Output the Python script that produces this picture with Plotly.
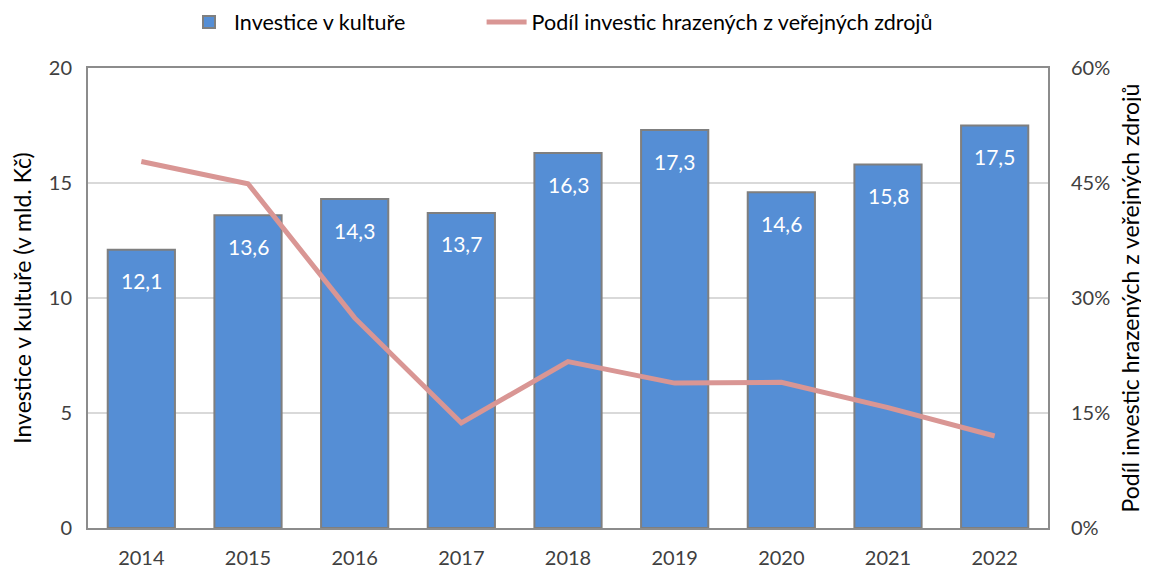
import plotly.graph_objects as go

years = ["2014", "2015", "2016", "2017", "2018", "2019", "2020", "2021", "2022"]
investice = [12.1, 13.6, 14.3, 13.7, 16.3, 17.3, 14.6, 15.8, 17.5]
podil = [0.478, 0.449, 0.274, 0.137, 0.217, 0.189, 0.190, 0.157, 0.120]
labels = [f"{v:.1f}".replace(".", ",") for v in investice]

font_family = "Lato, Open Sans, sans-serif"

fig = go.Figure()
fig.add_trace(go.Bar(
    x=years, y=investice, name="Investice v kultuře", legend="legend",
    marker=dict(color="#558ED5", line=dict(color="#7F7F7F", width=2)),
    width=0.63,
))
fig.add_trace(go.Scatter(
    x=years, y=podil, name="Podíl investic hrazených z veřejných zdrojů", legend="legend2",
    mode="lines", line=dict(color="#D99694", width=5), yaxis="y2",
))

# value labels near the top of each bar (category index positions)
for i, (y, t) in enumerate(zip(investice, labels)):
    fig.add_annotation(x=i, y=y, xref="x", yref="y", text=t, showarrow=False,
                       yshift=-31, yanchor="middle",
                       font=dict(color="white", size=21, family=font_family))

legend_common = dict(orientation="h", yanchor="middle", y=0.975, yref="container",
                     xanchor="left", font=dict(size=21.5, color="#000000"),
                     itemwidth=40, bgcolor="rgba(0,0,0,0)")

fig.update_layout(
    width=1141, height=561,
    margin=dict(l=80, r=101, t=60, b=41, autoexpand=False),
    paper_bgcolor="white", plot_bgcolor="white",
    font=dict(family=font_family, size=18, color="#404040"),
    showlegend=True,
    legend=dict(x=0.1, **legend_common),
    legend2=dict(x=0.41, **legend_common),
    xaxis=dict(type="category", showline=True, linecolor="#8C8C8C", linewidth=2,
               mirror=True, ticks="", automargin=False, ticklabelstandoff=11,
               range=[-0.5, len(years) - 0.5],
               tickfont=dict(size=20, color="#404040")),
    yaxis=dict(range=[0, 20], dtick=5, showgrid=True, gridcolor="#D9D9D9", gridwidth=2,
               showline=True, linecolor="#8C8C8C", linewidth=2, mirror=True,
               zeroline=False, ticks="", automargin=False, ticklabelstandoff=10,
               title=dict(text="Investice v kultuře (v mld. Kč)", font=dict(size=23, color="#000000"), standoff=17),
               tickfont=dict(size=20, color="#404040")),
    yaxis2=dict(range=[0, 0.6], dtick=0.15, tickformat=".0%", overlaying="y", side="right",
                showgrid=False, zeroline=False, automargin=False, ticklabelstandoff=22,
                title=dict(text="Podíl investic hrazených z veřejných zdrojů", font=dict(size=23, color="#000000"), standoff=13),
                tickfont=dict(size=20, color="#404040")),
)

fig.write_html("out.html")
